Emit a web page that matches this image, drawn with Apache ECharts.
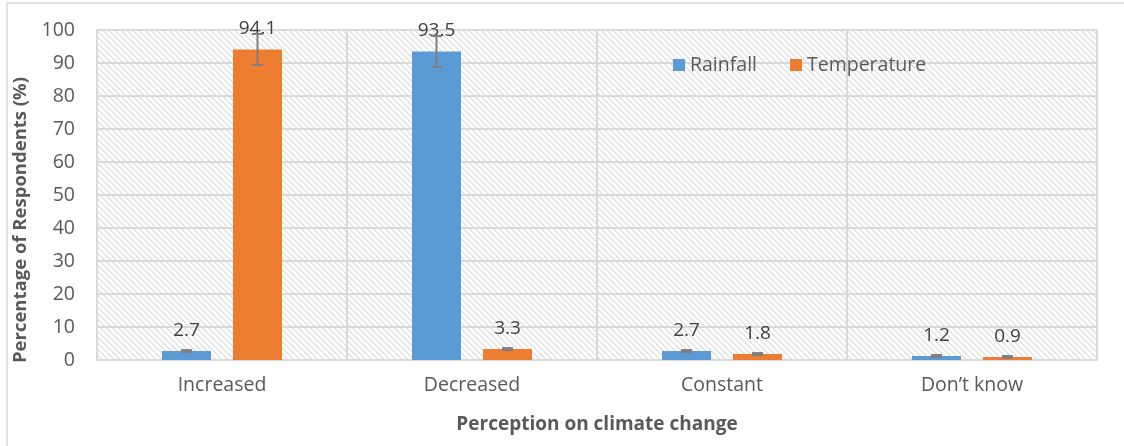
<!DOCTYPE html>
<html>
<head>
<meta charset="utf-8">
<script src="https://cdn.jsdelivr.net/npm/echarts@6/dist/echarts.min.js"></script>
<style>
  html, body { margin: 0; padding: 0; background: #fff; }
  #chart { width: 1124px; height: 446px; }
</style>
</head>
<body>
<div id="chart"></div>
<script>
const categories = ["Increased", "Decreased", "Constant", "Don\u2019t know"];
const rainfall = [2.7, 93.5, 2.7, 1.2];
const temperature = [94.1, 3.3, 1.8, 0.9];
const rainfallErr = [0.3, 4.7, 0.3, 0.3];
const temperatureErr = [4.7, 0.3, 0.3, 0.3];

const FONT = "'Open Sans', sans-serif";
const BAR_W = 49;
const BAR_GAP = 22;
const OFFSET = (BAR_W + BAR_GAP) / 2;

// light downward-diagonal hatch for the plot area
function hatch() {
  const c = document.createElement("canvas");
  c.width = 6; c.height = 6;
  const ctx = c.getContext("2d");
  ctx.fillStyle = "#ffffff";
  ctx.fillRect(0, 0, 6, 6);
  ctx.fillStyle = "#e3e3e3";
  for (let y = 0; y < 6; y++) {
    for (let x = 0; x < 6; x++) {
      const d = ((x - y) % 6 + 6) % 6;
      if (d === 0 || d === 1) ctx.fillRect(x, y, 1, 1);
    }
  }
  return c;
}

function errorSeries(name, values, errs, dx) {
  return {
    name: name + " err",
    type: "custom",
    z: 5,
    silent: true,
    data: values.map((v, i) => [i, v, errs[i]]),
    renderItem: (params, api) => {
      const i = api.value(0), v = api.value(1), e = api.value(2);
      const top = api.coord([i, v + e]);
      const bot = api.coord([i, v - e]);
      const x = top[0] + dx;
      const cap = 5.5;
      const style = { stroke: "#7f7f7f", lineWidth: 2 };
      return {
        type: "group",
        children: [
          { type: "line", shape: { x1: x, y1: top[1], x2: x, y2: bot[1] }, style },
          { type: "line", shape: { x1: x - cap, y1: top[1], x2: x + cap, y2: top[1] }, style },
          { type: "line", shape: { x1: x - cap, y1: bot[1], x2: x + cap, y2: bot[1] }, style }
        ]
      };
    }
  };
}

const label = {
  show: true,
  position: "top",
  distance: 11,
  fontSize: 19,
  color: "#404040",
  fontFamily: FONT,
  formatter: (p) => p.value.toFixed(1)
};

const chart = echarts.init(document.getElementById("chart"));
chart.setOption({
  backgroundColor: "#ffffff",
  animation: false,
  graphic: [{
    type: "rect",
    shape: { x: 7, y: 3, width: 1130, height: 460 },
    style: { fill: "none", stroke: "#d9d9d9", lineWidth: 1.5 },
    silent: true
  }],
  grid: {
    left: 97, right: 27, top: 30, bottom: 86,
    show: true,
    borderWidth: 0,
    backgroundColor: { image: hatch(), repeat: "repeat" }
  },
  legend: {
    left: 668, top: 50,
    icon: "rect",
    itemWidth: 12, itemHeight: 12,
    itemGap: 33,
    data: ["Rainfall", "Temperature"],
    textStyle: { fontSize: 19.5, color: "#595959", fontFamily: FONT }
  },
  xAxis: {
    type: "category",
    data: categories,
    axisTick: { show: false },
    axisLine: { lineStyle: { color: "#d9d9d9", width: 2 } },
    axisLabel: { fontSize: 19.5, color: "#595959", fontFamily: FONT, margin: 15 },
    splitLine: { show: true, lineStyle: { color: "#d9d9d9", width: 2 } },
    name: "Perception on climate change",
    nameLocation: "middle",
    nameGap: 55,
    nameTextStyle: { fontSize: 19, fontWeight: "bold", color: "#595959", fontFamily: FONT }
  },
  yAxis: {
    type: "value",
    min: 0, max: 100, interval: 10,
    axisLine: { show: true, lineStyle: { color: "#d9d9d9", width: 2 } },
    axisLabel: { fontSize: 19.5, color: "#595959", fontFamily: FONT, margin: 22 },
    splitLine: { lineStyle: { color: "#d9d9d9", width: 2 } },
    name: "Percentage of Respondents (%)",
    nameLocation: "middle",
    nameGap: 64,
    nameTextStyle: {
      fontSize: 18.5, fontWeight: "bold", color: "#595959", fontFamily: FONT,
      padding: [0, 50, 0, 0]
    }
  },
  series: [
    {
      name: "Rainfall", type: "bar", data: rainfall,
      barWidth: BAR_W, barGap: (BAR_GAP / BAR_W * 100) + "%",
      itemStyle: { color: "#5b9bd5" },
      label
    },
    {
      name: "Temperature", type: "bar", data: temperature,
      barWidth: BAR_W, barGap: (BAR_GAP / BAR_W * 100) + "%",
      itemStyle: { color: "#ed7d31" },
      label
    },
    errorSeries("Rainfall", rainfall, rainfallErr, -OFFSET),
    errorSeries("Temperature", temperature, temperatureErr, OFFSET)
  ]
});
</script>
</body>
</html>
